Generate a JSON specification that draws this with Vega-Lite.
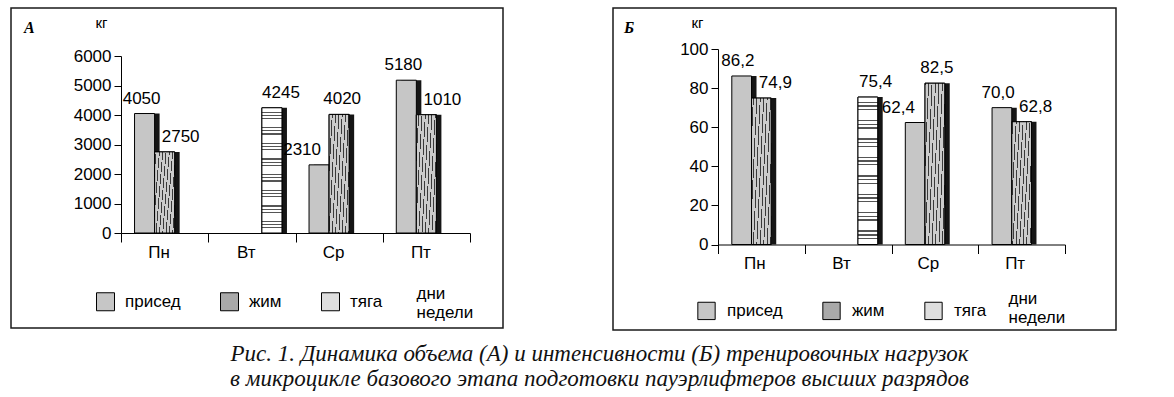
{
  "$schema": "https://vega.github.io/schema/vega-lite/v6.json",
  "padding": {"left": 10, "top": 7, "right": 5, "bottom": 2},
  "background": "white",
  "config": {
    "view": {"stroke": "#1a1a1a", "strokeWidth": 1.5},
    "font": "Liberation Sans"
  },
  "title": {
    "text": ["Рис. 1. Динамика объема (А) и интенсивности (Б) тренировочных нагрузок", "в микроцикле базового этапа подготовки пауэрлифтеров высших разрядов"],
    "orient": "bottom",
    "anchor": "middle",
    "font": "Liberation Serif",
    "fontStyle": "italic",
    "fontWeight": "normal",
    "fontSize": 23,
    "lineHeight": 25,
    "offset": 12,
    "dx": 36,
    "color": "#111"
  },
  "spacing": 108,
  "resolve": {
    "scale": {"x": "independent", "y": "independent", "xOffset": "independent", "fill": "independent"},
    "axis": {"x": "independent", "y": "independent"},
    "legend": {"fill": "independent"}
  },
  "hconcat": [
    {
      "width": 492,
      "height": 320,
      "title": {"text": "А", "anchor": "start", "orient": "top", "frame": "group", "font": "Liberation Serif", "fontStyle": "italic", "fontWeight": "bold", "fontSize": 16, "baseline": "alphabetic", "offset": 0, "dx": 13, "dy": 41, "color": "black"},
      "data": {"values": [
        {"day": "Пн", "series": "присед", "value": 4050, "label": "4050"},
        {"day": "Пн", "series": "жим", "value": 2750, "label": "2750"},
        {"day": "Вт", "series": "тяга", "value": 4245, "label": "4245"},
        {"day": "Ср", "series": "присед", "value": 2310, "label": "2310"},
        {"day": "Ср", "series": "жим", "value": 4020, "label": "4020"},
        {"day": "Пт", "series": "присед", "value": 5180, "label": "5180"},
        {"day": "Пт", "series": "жим", "value": 4010, "label": "1010"}
      ]},
      "resolve": {"scale": {"xOffset": "independent"}},
      "encoding": {
        "x": {"field": "day", "type": "nominal", "sort": ["Пн", "Вт", "Ср", "Пт"],
          "scale": {"domain": ["Пн", "Вт", "Ср", "Пт"], "range": [110, 459], "paddingInner": 0, "paddingOuter": 0},
          "axis": {"title": ["дни", "недели"], "titleX": 405, "titleY": 65, "titleAlign": "left", "titleBaseline": "alphabetic", "titleAngle": 0, "titleFont": "Liberation Sans", "titleFontSize": 17, "titleFontWeight": "normal", "titleLineHeight": 19, "titleColor": "black", "offset": -95, "tickBand": "extent", "tickSize": 9, "tickColor": "black", "domainColor": "black", "labelFont": "Liberation Sans", "labelFontSize": 17, "labelColor": "black", "labelPadding": 2, "labelAngle": 0, "labelOffset": -6, "grid": false}},
        "xOffset": {"field": "series", "type": "nominal", "scale": {"domain": ["присед", "жим", "тяга"], "paddingInner": 0, "paddingOuter": 0.675}},
        "y": {"field": "value", "type": "quantitative",
          "scale": {"domain": [0, 6000], "range": [225, 48], "nice": false},
          "axis": {"title": "кг", "titleAngle": 0, "titleX": -20, "titleY": 14, "titleAlign": "center", "titleBaseline": "middle", "titleFont": "Liberation Sans", "titleFontSize": 15, "titleFontWeight": "normal", "titleColor": "black", "offset": -110, "values": [0, 1000, 2000, 3000, 4000, 5000, 6000], "format": "d", "tickSize": 7, "tickColor": "black", "domainColor": "black", "labelFont": "Liberation Sans", "labelFontSize": 17, "labelColor": "black", "labelPadding": 3, "grid": false}}
      },
      "layer": [
        {"mark": {"type": "bar", "fill": "#151515"},
          "encoding": {"xOffset": {"field": "series", "type": "nominal", "scale": {"domain": ["присед", "жим", "тяга"], "range": [5, 92.25], "paddingInner": 0, "paddingOuter": 0.675}}}},
        {"mark": {"type": "bar", "stroke": "black", "strokeWidth": 1},
          "encoding": {"fill": {"field": "series", "type": "nominal",
            "scale": {"domain": ["присед", "жим", "тяга"], "range": ["#c6c6c6", "#a9a9a9", "#dedede"]},
            "legend": {"orient": "none", "legendX": 85, "legendY": 284, "direction": "horizontal", "title": null, "symbolType": "square", "symbolSize": 324, "symbolStrokeColor": "black", "symbolStrokeWidth": 1, "symbolOpacity": 1, "labelFont": "Liberation Sans", "labelFontSize": 17, "labelColor": "black", "labelOffset": 10, "columnPadding": 37, "padding": 0}}}},
        {"transform": [{"filter": "datum.series === 'жим'"}],
          "mark": {"type": "bar", "stroke": "black", "strokeWidth": 1, "fill": {"gradient": "linear", "x1": 0, "y1": 1, "x2": 1.12, "y2": 0.84, "stops": [
                {"offset": 0, "color": "#cbcbcb"},
                {"offset": 0.02, "color": "#cbcbcb"}, {"offset": 0.02, "color": "#3a3a3a"}, {"offset": 0.036, "color": "#3a3a3a"}, {"offset": 0.036, "color": "#cbcbcb"},
                {"offset": 0.0825, "color": "#cbcbcb"}, {"offset": 0.0825, "color": "#3a3a3a"}, {"offset": 0.0985, "color": "#3a3a3a"}, {"offset": 0.0985, "color": "#cbcbcb"},
                {"offset": 0.145, "color": "#cbcbcb"}, {"offset": 0.145, "color": "#3a3a3a"}, {"offset": 0.161, "color": "#3a3a3a"}, {"offset": 0.161, "color": "#cbcbcb"},
                {"offset": 0.2075, "color": "#cbcbcb"}, {"offset": 0.2075, "color": "#3a3a3a"}, {"offset": 0.2235, "color": "#3a3a3a"}, {"offset": 0.2235, "color": "#cbcbcb"},
                {"offset": 0.27, "color": "#cbcbcb"}, {"offset": 0.27, "color": "#3a3a3a"}, {"offset": 0.286, "color": "#3a3a3a"}, {"offset": 0.286, "color": "#cbcbcb"},
                {"offset": 0.3325, "color": "#cbcbcb"}, {"offset": 0.3325, "color": "#3a3a3a"}, {"offset": 0.3485, "color": "#3a3a3a"}, {"offset": 0.3485, "color": "#cbcbcb"},
                {"offset": 0.395, "color": "#cbcbcb"}, {"offset": 0.395, "color": "#3a3a3a"}, {"offset": 0.411, "color": "#3a3a3a"}, {"offset": 0.411, "color": "#cbcbcb"},
                {"offset": 0.4575, "color": "#cbcbcb"}, {"offset": 0.4575, "color": "#3a3a3a"}, {"offset": 0.4735, "color": "#3a3a3a"}, {"offset": 0.4735, "color": "#cbcbcb"},
                {"offset": 0.52, "color": "#cbcbcb"}, {"offset": 0.52, "color": "#3a3a3a"}, {"offset": 0.536, "color": "#3a3a3a"}, {"offset": 0.536, "color": "#cbcbcb"},
                {"offset": 0.5825, "color": "#cbcbcb"}, {"offset": 0.5825, "color": "#3a3a3a"}, {"offset": 0.5985, "color": "#3a3a3a"}, {"offset": 0.5985, "color": "#cbcbcb"},
                {"offset": 0.645, "color": "#cbcbcb"}, {"offset": 0.645, "color": "#3a3a3a"}, {"offset": 0.661, "color": "#3a3a3a"}, {"offset": 0.661, "color": "#cbcbcb"},
                {"offset": 0.7075, "color": "#cbcbcb"}, {"offset": 0.7075, "color": "#3a3a3a"}, {"offset": 0.7235, "color": "#3a3a3a"}, {"offset": 0.7235, "color": "#cbcbcb"},
                {"offset": 0.77, "color": "#cbcbcb"}, {"offset": 0.77, "color": "#3a3a3a"}, {"offset": 0.786, "color": "#3a3a3a"}, {"offset": 0.786, "color": "#cbcbcb"},
                {"offset": 0.8325, "color": "#cbcbcb"}, {"offset": 0.8325, "color": "#3a3a3a"}, {"offset": 0.8485, "color": "#3a3a3a"}, {"offset": 0.8485, "color": "#cbcbcb"},
                {"offset": 0.895, "color": "#cbcbcb"}, {"offset": 0.895, "color": "#3a3a3a"}, {"offset": 0.911, "color": "#3a3a3a"}, {"offset": 0.911, "color": "#cbcbcb"},
                {"offset": 0.9575, "color": "#cbcbcb"}, {"offset": 0.9575, "color": "#3a3a3a"}, {"offset": 0.9735, "color": "#3a3a3a"}, {"offset": 0.9735, "color": "#cbcbcb"},
                {"offset": 1, "color": "#cbcbcb"}
              ]}}},
        {"transform": [{"filter": "datum.series === 'тяга'"}],
          "mark": {"type": "bar", "stroke": "black", "strokeWidth": 1, "fill": {"gradient": "linear", "x1": 0, "y1": 0, "x2": 0, "y2": 1, "stops": [
                {"offset": 0, "color": "#ffffff"},
                {"offset": 0.03, "color": "#ffffff"}, {"offset": 0.03, "color": "#555555"}, {"offset": 0.039, "color": "#555555"}, {"offset": 0.039, "color": "#ffffff"},
                {"offset": 0.055, "color": "#ffffff"}, {"offset": 0.055, "color": "#555555"}, {"offset": 0.064, "color": "#555555"}, {"offset": 0.064, "color": "#ffffff"},
                {"offset": 0.08, "color": "#ffffff"}, {"offset": 0.08, "color": "#555555"}, {"offset": 0.089, "color": "#555555"}, {"offset": 0.089, "color": "#ffffff"},
                {"offset": 0.155, "color": "#ffffff"}, {"offset": 0.155, "color": "#555555"}, {"offset": 0.164, "color": "#555555"}, {"offset": 0.164, "color": "#ffffff"},
                {"offset": 0.18, "color": "#ffffff"}, {"offset": 0.18, "color": "#555555"}, {"offset": 0.189, "color": "#555555"}, {"offset": 0.189, "color": "#ffffff"},
                {"offset": 0.205, "color": "#ffffff"}, {"offset": 0.205, "color": "#555555"}, {"offset": 0.214, "color": "#555555"}, {"offset": 0.214, "color": "#ffffff"},
                {"offset": 0.28, "color": "#ffffff"}, {"offset": 0.28, "color": "#555555"}, {"offset": 0.289, "color": "#555555"}, {"offset": 0.289, "color": "#ffffff"},
                {"offset": 0.305, "color": "#ffffff"}, {"offset": 0.305, "color": "#555555"}, {"offset": 0.314, "color": "#555555"}, {"offset": 0.314, "color": "#ffffff"},
                {"offset": 0.33, "color": "#ffffff"}, {"offset": 0.33, "color": "#555555"}, {"offset": 0.339, "color": "#555555"}, {"offset": 0.339, "color": "#ffffff"},
                {"offset": 0.405, "color": "#ffffff"}, {"offset": 0.405, "color": "#555555"}, {"offset": 0.414, "color": "#555555"}, {"offset": 0.414, "color": "#ffffff"},
                {"offset": 0.43, "color": "#ffffff"}, {"offset": 0.43, "color": "#555555"}, {"offset": 0.439, "color": "#555555"}, {"offset": 0.439, "color": "#ffffff"},
                {"offset": 0.455, "color": "#ffffff"}, {"offset": 0.455, "color": "#555555"}, {"offset": 0.464, "color": "#555555"}, {"offset": 0.464, "color": "#ffffff"},
                {"offset": 0.53, "color": "#ffffff"}, {"offset": 0.53, "color": "#555555"}, {"offset": 0.539, "color": "#555555"}, {"offset": 0.539, "color": "#ffffff"},
                {"offset": 0.555, "color": "#ffffff"}, {"offset": 0.555, "color": "#555555"}, {"offset": 0.564, "color": "#555555"}, {"offset": 0.564, "color": "#ffffff"},
                {"offset": 0.58, "color": "#ffffff"}, {"offset": 0.58, "color": "#555555"}, {"offset": 0.589, "color": "#555555"}, {"offset": 0.589, "color": "#ffffff"},
                {"offset": 0.655, "color": "#ffffff"}, {"offset": 0.655, "color": "#555555"}, {"offset": 0.664, "color": "#555555"}, {"offset": 0.664, "color": "#ffffff"},
                {"offset": 0.68, "color": "#ffffff"}, {"offset": 0.68, "color": "#555555"}, {"offset": 0.689, "color": "#555555"}, {"offset": 0.689, "color": "#ffffff"},
                {"offset": 0.705, "color": "#ffffff"}, {"offset": 0.705, "color": "#555555"}, {"offset": 0.714, "color": "#555555"}, {"offset": 0.714, "color": "#ffffff"},
                {"offset": 0.78, "color": "#ffffff"}, {"offset": 0.78, "color": "#555555"}, {"offset": 0.789, "color": "#555555"}, {"offset": 0.789, "color": "#ffffff"},
                {"offset": 0.805, "color": "#ffffff"}, {"offset": 0.805, "color": "#555555"}, {"offset": 0.814, "color": "#555555"}, {"offset": 0.814, "color": "#ffffff"},
                {"offset": 0.83, "color": "#ffffff"}, {"offset": 0.83, "color": "#555555"}, {"offset": 0.839, "color": "#555555"}, {"offset": 0.839, "color": "#ffffff"},
                {"offset": 0.905, "color": "#ffffff"}, {"offset": 0.905, "color": "#555555"}, {"offset": 0.914, "color": "#555555"}, {"offset": 0.914, "color": "#ffffff"},
                {"offset": 0.93, "color": "#ffffff"}, {"offset": 0.93, "color": "#555555"}, {"offset": 0.939, "color": "#555555"}, {"offset": 0.939, "color": "#ffffff"},
                {"offset": 0.955, "color": "#ffffff"}, {"offset": 0.955, "color": "#555555"}, {"offset": 0.964, "color": "#555555"}, {"offset": 0.964, "color": "#ffffff"},
                {"offset": 1, "color": "#ffffff"}
              ]}}},
        {"transform": [{"joinaggregate": [{"op": "max", "field": "value", "as": "dayMax"}], "groupby": ["day"]}],
          "mark": {"type": "text", "font": "Liberation Sans", "fontSize": 17, "baseline": "alphabetic", "align": "center", "dy": -10, "dx": {"expr": "datum.value < datum.dayMax ? (datum.series === 'присед' ? -11 : 16) : 3"}, "color": "black"},
          "encoding": {"text": {"field": "label", "type": "nominal"}}}
      ]
    },
    {
      "width": 503,
      "height": 322,
      "title": {"text": "Б", "anchor": "start", "orient": "top", "frame": "group", "font": "Liberation Serif", "fontStyle": "italic", "fontWeight": "bold", "fontSize": 16, "baseline": "alphabetic", "offset": 0, "dx": 11, "dy": 41, "color": "black"},
      "data": {"values": [
        {"day": "Пн", "series": "присед", "value": 86.2, "label": "86,2"},
        {"day": "Пн", "series": "жим", "value": 74.9, "label": "74,9"},
        {"day": "Вт", "series": "тяга", "value": 75.4, "label": "75,4"},
        {"day": "Ср", "series": "присед", "value": 62.4, "label": "62,4"},
        {"day": "Ср", "series": "жим", "value": 82.5, "label": "82,5"},
        {"day": "Пт", "series": "присед", "value": 70.0, "label": "70,0"},
        {"day": "Пт", "series": "жим", "value": 62.8, "label": "62,8"}
      ]},
      "resolve": {"scale": {"xOffset": "independent"}},
      "encoding": {
        "x": {"field": "day", "type": "nominal", "sort": ["Пн", "Вт", "Ср", "Пт"],
          "scale": {"domain": ["Пн", "Вт", "Ср", "Пт"], "range": [105, 452], "paddingInner": 0, "paddingOuter": 0},
          "axis": {"title": ["дни", "недели"], "titleX": 395, "titleY": 59, "titleAlign": "left", "titleBaseline": "alphabetic", "titleAngle": 0, "titleFont": "Liberation Sans", "titleFontSize": 17, "titleFontWeight": "normal", "titleLineHeight": 19, "titleColor": "black", "offset": -85.5, "tickBand": "extent", "tickSize": 9, "tickColor": "black", "domainColor": "black", "labelFont": "Liberation Sans", "labelFontSize": 17, "labelColor": "black", "labelPadding": 2, "labelAngle": 0, "labelOffset": -7, "grid": false}},
        "xOffset": {"field": "series", "type": "nominal", "scale": {"domain": ["присед", "жим", "тяга"], "paddingInner": 0, "paddingOuter": 0.7}},
        "y": {"field": "value", "type": "quantitative",
          "scale": {"domain": [0, 100], "range": [236.5, 41], "nice": false},
          "axis": {"title": "кг", "titleAngle": 0, "titleX": -21, "titleY": 14, "titleAlign": "center", "titleBaseline": "middle", "titleFont": "Liberation Sans", "titleFontSize": 15, "titleFontWeight": "normal", "titleColor": "black", "offset": -105, "values": [0, 20, 40, 60, 80, 100], "format": "d", "tickSize": 7, "tickColor": "black", "domainColor": "black", "labelFont": "Liberation Sans", "labelFontSize": 17, "labelColor": "black", "labelPadding": 3, "grid": false}}
      },
      "layer": [
        {"mark": {"type": "bar", "fill": "#151515"},
          "encoding": {"xOffset": {"field": "series", "type": "nominal", "scale": {"domain": ["присед", "жим", "тяга"], "range": [5, 91.75], "paddingInner": 0, "paddingOuter": 0.7}}}},
        {"mark": {"type": "bar", "stroke": "black", "strokeWidth": 1},
          "encoding": {"fill": {"field": "series", "type": "nominal",
            "scale": {"domain": ["присед", "жим", "тяга"], "range": ["#c6c6c6", "#a9a9a9", "#dedede"]},
            "legend": {"orient": "none", "legendX": 84, "legendY": 293, "direction": "horizontal", "title": null, "symbolType": "square", "symbolSize": 300, "symbolStrokeColor": "black", "symbolStrokeWidth": 1, "symbolOpacity": 1, "labelFont": "Liberation Sans", "labelFontSize": 17, "labelColor": "black", "labelOffset": 11, "columnPadding": 37, "padding": 0}}}},
        {"transform": [{"filter": "datum.series === 'жим'"}],
          "mark": {"type": "bar", "stroke": "black", "strokeWidth": 1, "fill": {"gradient": "linear", "x1": 0, "y1": 1, "x2": 1.12, "y2": 0.84, "stops": [
                {"offset": 0, "color": "#cbcbcb"},
                {"offset": 0.02, "color": "#cbcbcb"}, {"offset": 0.02, "color": "#3a3a3a"}, {"offset": 0.036, "color": "#3a3a3a"}, {"offset": 0.036, "color": "#cbcbcb"},
                {"offset": 0.0825, "color": "#cbcbcb"}, {"offset": 0.0825, "color": "#3a3a3a"}, {"offset": 0.0985, "color": "#3a3a3a"}, {"offset": 0.0985, "color": "#cbcbcb"},
                {"offset": 0.145, "color": "#cbcbcb"}, {"offset": 0.145, "color": "#3a3a3a"}, {"offset": 0.161, "color": "#3a3a3a"}, {"offset": 0.161, "color": "#cbcbcb"},
                {"offset": 0.2075, "color": "#cbcbcb"}, {"offset": 0.2075, "color": "#3a3a3a"}, {"offset": 0.2235, "color": "#3a3a3a"}, {"offset": 0.2235, "color": "#cbcbcb"},
                {"offset": 0.27, "color": "#cbcbcb"}, {"offset": 0.27, "color": "#3a3a3a"}, {"offset": 0.286, "color": "#3a3a3a"}, {"offset": 0.286, "color": "#cbcbcb"},
                {"offset": 0.3325, "color": "#cbcbcb"}, {"offset": 0.3325, "color": "#3a3a3a"}, {"offset": 0.3485, "color": "#3a3a3a"}, {"offset": 0.3485, "color": "#cbcbcb"},
                {"offset": 0.395, "color": "#cbcbcb"}, {"offset": 0.395, "color": "#3a3a3a"}, {"offset": 0.411, "color": "#3a3a3a"}, {"offset": 0.411, "color": "#cbcbcb"},
                {"offset": 0.4575, "color": "#cbcbcb"}, {"offset": 0.4575, "color": "#3a3a3a"}, {"offset": 0.4735, "color": "#3a3a3a"}, {"offset": 0.4735, "color": "#cbcbcb"},
                {"offset": 0.52, "color": "#cbcbcb"}, {"offset": 0.52, "color": "#3a3a3a"}, {"offset": 0.536, "color": "#3a3a3a"}, {"offset": 0.536, "color": "#cbcbcb"},
                {"offset": 0.5825, "color": "#cbcbcb"}, {"offset": 0.5825, "color": "#3a3a3a"}, {"offset": 0.5985, "color": "#3a3a3a"}, {"offset": 0.5985, "color": "#cbcbcb"},
                {"offset": 0.645, "color": "#cbcbcb"}, {"offset": 0.645, "color": "#3a3a3a"}, {"offset": 0.661, "color": "#3a3a3a"}, {"offset": 0.661, "color": "#cbcbcb"},
                {"offset": 0.7075, "color": "#cbcbcb"}, {"offset": 0.7075, "color": "#3a3a3a"}, {"offset": 0.7235, "color": "#3a3a3a"}, {"offset": 0.7235, "color": "#cbcbcb"},
                {"offset": 0.77, "color": "#cbcbcb"}, {"offset": 0.77, "color": "#3a3a3a"}, {"offset": 0.786, "color": "#3a3a3a"}, {"offset": 0.786, "color": "#cbcbcb"},
                {"offset": 0.8325, "color": "#cbcbcb"}, {"offset": 0.8325, "color": "#3a3a3a"}, {"offset": 0.8485, "color": "#3a3a3a"}, {"offset": 0.8485, "color": "#cbcbcb"},
                {"offset": 0.895, "color": "#cbcbcb"}, {"offset": 0.895, "color": "#3a3a3a"}, {"offset": 0.911, "color": "#3a3a3a"}, {"offset": 0.911, "color": "#cbcbcb"},
                {"offset": 0.9575, "color": "#cbcbcb"}, {"offset": 0.9575, "color": "#3a3a3a"}, {"offset": 0.9735, "color": "#3a3a3a"}, {"offset": 0.9735, "color": "#cbcbcb"},
                {"offset": 1, "color": "#cbcbcb"}
              ]}}},
        {"transform": [{"filter": "datum.series === 'тяга'"}],
          "mark": {"type": "bar", "stroke": "black", "strokeWidth": 1, "fill": {"gradient": "linear", "x1": 0, "y1": 0, "x2": 0, "y2": 1, "stops": [
                {"offset": 0, "color": "#ffffff"},
                {"offset": 0.03, "color": "#ffffff"}, {"offset": 0.03, "color": "#555555"}, {"offset": 0.039, "color": "#555555"}, {"offset": 0.039, "color": "#ffffff"},
                {"offset": 0.055, "color": "#ffffff"}, {"offset": 0.055, "color": "#555555"}, {"offset": 0.064, "color": "#555555"}, {"offset": 0.064, "color": "#ffffff"},
                {"offset": 0.08, "color": "#ffffff"}, {"offset": 0.08, "color": "#555555"}, {"offset": 0.089, "color": "#555555"}, {"offset": 0.089, "color": "#ffffff"},
                {"offset": 0.155, "color": "#ffffff"}, {"offset": 0.155, "color": "#555555"}, {"offset": 0.164, "color": "#555555"}, {"offset": 0.164, "color": "#ffffff"},
                {"offset": 0.18, "color": "#ffffff"}, {"offset": 0.18, "color": "#555555"}, {"offset": 0.189, "color": "#555555"}, {"offset": 0.189, "color": "#ffffff"},
                {"offset": 0.205, "color": "#ffffff"}, {"offset": 0.205, "color": "#555555"}, {"offset": 0.214, "color": "#555555"}, {"offset": 0.214, "color": "#ffffff"},
                {"offset": 0.28, "color": "#ffffff"}, {"offset": 0.28, "color": "#555555"}, {"offset": 0.289, "color": "#555555"}, {"offset": 0.289, "color": "#ffffff"},
                {"offset": 0.305, "color": "#ffffff"}, {"offset": 0.305, "color": "#555555"}, {"offset": 0.314, "color": "#555555"}, {"offset": 0.314, "color": "#ffffff"},
                {"offset": 0.33, "color": "#ffffff"}, {"offset": 0.33, "color": "#555555"}, {"offset": 0.339, "color": "#555555"}, {"offset": 0.339, "color": "#ffffff"},
                {"offset": 0.405, "color": "#ffffff"}, {"offset": 0.405, "color": "#555555"}, {"offset": 0.414, "color": "#555555"}, {"offset": 0.414, "color": "#ffffff"},
                {"offset": 0.43, "color": "#ffffff"}, {"offset": 0.43, "color": "#555555"}, {"offset": 0.439, "color": "#555555"}, {"offset": 0.439, "color": "#ffffff"},
                {"offset": 0.455, "color": "#ffffff"}, {"offset": 0.455, "color": "#555555"}, {"offset": 0.464, "color": "#555555"}, {"offset": 0.464, "color": "#ffffff"},
                {"offset": 0.53, "color": "#ffffff"}, {"offset": 0.53, "color": "#555555"}, {"offset": 0.539, "color": "#555555"}, {"offset": 0.539, "color": "#ffffff"},
                {"offset": 0.555, "color": "#ffffff"}, {"offset": 0.555, "color": "#555555"}, {"offset": 0.564, "color": "#555555"}, {"offset": 0.564, "color": "#ffffff"},
                {"offset": 0.58, "color": "#ffffff"}, {"offset": 0.58, "color": "#555555"}, {"offset": 0.589, "color": "#555555"}, {"offset": 0.589, "color": "#ffffff"},
                {"offset": 0.655, "color": "#ffffff"}, {"offset": 0.655, "color": "#555555"}, {"offset": 0.664, "color": "#555555"}, {"offset": 0.664, "color": "#ffffff"},
                {"offset": 0.68, "color": "#ffffff"}, {"offset": 0.68, "color": "#555555"}, {"offset": 0.689, "color": "#555555"}, {"offset": 0.689, "color": "#ffffff"},
                {"offset": 0.705, "color": "#ffffff"}, {"offset": 0.705, "color": "#555555"}, {"offset": 0.714, "color": "#555555"}, {"offset": 0.714, "color": "#ffffff"},
                {"offset": 0.78, "color": "#ffffff"}, {"offset": 0.78, "color": "#555555"}, {"offset": 0.789, "color": "#555555"}, {"offset": 0.789, "color": "#ffffff"},
                {"offset": 0.805, "color": "#ffffff"}, {"offset": 0.805, "color": "#555555"}, {"offset": 0.814, "color": "#555555"}, {"offset": 0.814, "color": "#ffffff"},
                {"offset": 0.83, "color": "#ffffff"}, {"offset": 0.83, "color": "#555555"}, {"offset": 0.839, "color": "#555555"}, {"offset": 0.839, "color": "#ffffff"},
                {"offset": 0.905, "color": "#ffffff"}, {"offset": 0.905, "color": "#555555"}, {"offset": 0.914, "color": "#555555"}, {"offset": 0.914, "color": "#ffffff"},
                {"offset": 0.93, "color": "#ffffff"}, {"offset": 0.93, "color": "#555555"}, {"offset": 0.939, "color": "#555555"}, {"offset": 0.939, "color": "#ffffff"},
                {"offset": 0.955, "color": "#ffffff"}, {"offset": 0.955, "color": "#555555"}, {"offset": 0.964, "color": "#555555"}, {"offset": 0.964, "color": "#ffffff"},
                {"offset": 1, "color": "#ffffff"}
              ]}}},
        {"transform": [{"joinaggregate": [{"op": "max", "field": "value", "as": "dayMax"}], "groupby": ["day"]}],
          "mark": {"type": "text", "font": "Liberation Sans", "fontSize": 17, "baseline": "alphabetic", "align": "center", "dy": -10, "dx": {"expr": "datum.value < datum.dayMax ? (datum.series === 'присед' ? -11 : 14) : 2"}, "color": "black"},
          "encoding": {"text": {"field": "label", "type": "nominal"}}}
      ]
    }
  ]
}
